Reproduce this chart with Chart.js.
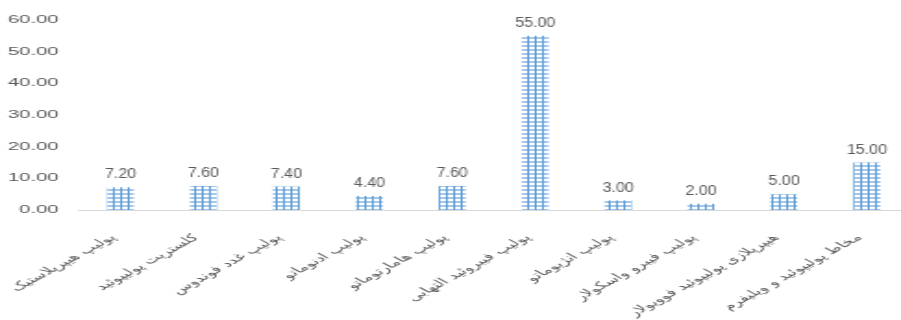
<!DOCTYPE html>
<html lang="fa">
<head>
<meta charset="utf-8">
<title>انواع پولیپ</title>
<script src="https://cdn.jsdelivr.net/npm/chart.js@4.4.1/dist/chart.umd.min.js"></script>
<style>
  html, body { margin: 0; padding: 0; background: #ffffff; overflow: hidden; }
  #wrap { width: 901px; height: 320px; overflow: hidden; position: relative; }
  #chart { position: absolute; left: 0; top: 0; transform-origin: 0 0; }
  #fontprobe { position: absolute; left: -9999px; top: 0; font-family: "Liberation Sans"; }
</style>
</head>
<body>
<div id="wrap"><canvas id="chart" width="491" height="320"></canvas></div>
<span id="fontprobe">0.00 <span style="font-family:'DejaVu Sans'">پولیپ</span></span>
<script>
// Categories (polyp types)
const categories = [
  'پولیپ هیپرپلاستیک',
  'کلستریت پولیپوئید',
  'پولیپ غدد فوندوس',
  'پولیپ ادنوماتو',
  'پولیپ هامارتوماتو',
  'پولیپ فیبروئید التهابی',
  'پولیپ انژیوماتو',
  'پولیپ فیبرو واسکولار',
  'هیپرپلازی پولیپوئید فوویولار',
  'مخاط پولیپوئید و ویلیفرم'
];

// Percentages per category
const values = [7.2, 7.6, 7.4, 4.4, 7.6, 55.0, 3.0, 2.0, 5.0, 15.0];

// Value-axis ticks
const yTickValues = [0, 10, 20, 30, 40, 50, 60];

// Horizontal stretch applied to the drawn canvas
const STRETCH = 1.85;
// Horizontal stretch kept on the value labels
const LABEL_STRETCH = 1.15;

const canvas = document.getElementById('chart');
canvas.style.transform = 'scaleX(' + STRETCH + ')';
const ctx = canvas.getContext('2d');

// Grid-hatch fill for the bars
function makeHatch() {
  const c = document.createElement('canvas');
  c.width = 4; c.height = 4;
  const g = c.getContext('2d');
  g.fillStyle = '#ffffff';
  g.fillRect(0, 0, 4, 4);
  g.fillStyle = '#a4c8ea';
  g.fillRect(0, 1, 4, 2);
  g.fillStyle = '#5b9bd5';
  g.fillRect(1, 0, 1, 4);
  return ctx.createPattern(c, 'repeat');
}

// Value labels above each bar
const valueLabels = {
  id: 'valueLabels',
  afterDatasetsDraw(chart) {
    const c = chart.ctx;
    const meta = chart.getDatasetMeta(0);
    c.save();
    c.font = '14px "Liberation Sans", Arial, sans-serif';
    c.fillStyle = '#595959';
    c.textAlign = 'center';
    c.textBaseline = 'alphabetic';
    meta.data.forEach((bar, i) => {
      c.save();
      c.translate(bar.x, bar.y - 9);
      c.scale(LABEL_STRETCH / STRETCH, 1);
      c.fillText(values[i].toFixed(2), 0, 0);
      c.restore();
    });
    c.restore();
  }
};

function draw() {
  new Chart(ctx, {
    type: 'bar',
    data: {
      labels: categories,
      datasets: [{
        data: values,
        backgroundColor: makeHatch(),
        borderWidth: 0,
        categoryPercentage: 1.0,
        barPercentage: 0.326
      }]
    },
    options: {
      responsive: false,
      animation: false,
      devicePixelRatio: 1,
      layout: { padding: { top: 20, left: 0, right: 0, bottom: 0 } },
      plugins: {
        legend: { display: false },
        tooltip: { enabled: false }
      },
      scales: {
        x: {
          grid: { display: false, drawTicks: false },
          border: { display: true, color: '#d9d9d9', width: 1 },
          ticks: {
            autoSkip: false,
            minRotation: 45,
            maxRotation: 45,
            padding: 22,
            labelOffset: -4,
            color: '#595959',
            font: { family: '"DejaVu Sans", sans-serif', size: 10 }
          },
          afterFit(scale) {
            scale.height = 110;
            scale.paddingLeft = 0;
            scale.paddingRight = 0;
          }
        },
        y: {
          min: 0,
          max: 60,
          grid: { display: false, drawTicks: false },
          border: { display: false },
          afterBuildTicks(scale) {
            scale.ticks = yTickValues.map(v => ({ value: v }));
          },
          ticks: {
            padding: 11,
            color: '#595959',
            font: { family: '"Liberation Sans", Arial, sans-serif', size: 11 },
            callback: v => Number(v).toFixed(2)
          },
          afterFit(scale) { scale.width = 42.7; }
        }
      }
    },
    plugins: [valueLabels]
  });
}

Promise.all([
  document.fonts.load('11px "Liberation Sans"'),
  document.fonts.load('14px "Liberation Sans"'),
  document.fonts.load('10px "DejaVu Sans"', 'پولیپ')
]).catch(() => {}).then(draw);
</script>
</body>
</html>
